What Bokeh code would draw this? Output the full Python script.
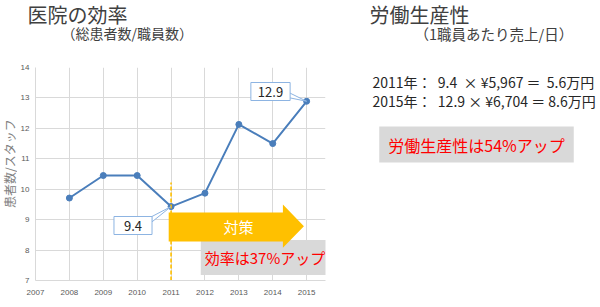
import math
from bokeh.plotting import figure
from bokeh.models import Label, Range1d
from bokeh.layouts import row, column
from bokeh.embed import file_html
from bokeh.resources import INLINE

# ---- data ----
years = [2008, 2009, 2010, 2011, 2012, 2013, 2014, 2015]
efficiency = [9.71, 10.45, 10.45, 9.43, 9.87, 12.13, 11.5, 12.89]
x_ticks = [2007, 2008, 2009, 2010, 2011, 2012, 2013, 2014, 2015]
y_ticks = [7, 8, 9, 10, 11, 12, 13, 14]
callout_2011 = "9.4"
callout_2015 = "12.9"
NB = "\u00a0"
row_2011 = f"2011年：{NB}{NB}9.4{NB}{NB}× ¥5,967 ＝{NB}{NB}5.6万円"
row_2015 = f"2015年：{NB}{NB}12.9 × ¥6,704 ＝ 8.6万円"

JP = "Noto Sans CJK JP"
LEFT_W = 340          # width of the left column
YLAB_W = 17           # strip holding the y-axis title
TITLE_H = 59          # height of the title strip above the chart
CHART_H = 307 - TITLE_H
FL, FR, FT, FB = 33, 325, 67, 280   # frame edges in global px
px_per_year = (306 - 33) / 8.0


def blank_fig(w, h):
    f = figure(width=w, height=h, output_backend="svg", toolbar_location=None,
               x_range=Range1d(0, w), y_range=Range1d(0, h),
               x_axis_type=None, y_axis_type=None,
               min_border_left=0, min_border_right=0,
               min_border_top=0, min_border_bottom=0)
    f.outline_line_color = None
    f.grid.visible = False
    f.background_fill_color = "white"
    f.border_fill_color = "white"
    return f


def put(fig, x0, y0, h, x, y, text, size, color="#404040", align="left", **kw):
    l = Label(x=x - x0, y=h - (y - y0), text=text, text_font=JP,
              text_font_size=f"{size}px", text_color=color,
              text_align=align, text_baseline="middle", **kw)
    fig.add_layout(l)
    return l


# ---------- title strip (left) ----------
tfig = blank_fig(LEFT_W, TITLE_H)
put(tfig, 0, 0, TITLE_H, 27, 14, "医院の効率", 20)
put(tfig, 0, 0, TITLE_H, 61, 32, "（総患者数/職員数）", 14)

# ---------- y-axis title strip ----------
yfig = blank_fig(YLAB_W, CHART_H)
put(yfig, 0, TITLE_H, CHART_H, 8.5, 171, "患者数/スタッフ", 12, color="#808080",
    align="center", angle=math.pi / 2)

# ---------- chart ----------
p = figure(width=LEFT_W - YLAB_W, height=CHART_H, output_backend="svg",
           toolbar_location=None,
           x_range=Range1d(2007, 2007 + (FR - FL) / px_per_year),
           y_range=Range1d(7, 14),
           min_border_left=FL - YLAB_W, min_border_right=LEFT_W - FR,
           min_border_top=FT - TITLE_H, min_border_bottom=307 - FB)
p.outline_line_color = None
p.background_fill_color = "white"
p.border_fill_color = "white"

for ax in (p.xaxis[0], p.yaxis[0]):
    ax.major_tick_line_color = None
    ax.minor_tick_line_color = None
    ax.major_tick_out = 0
    ax.major_tick_in = 0
    ax.minor_tick_out = 0
    ax.minor_tick_in = 0
    ax.axis_line_color = "#d9d9d9"
    ax.major_label_text_font = "Liberation Sans"
    ax.major_label_text_font_size = "8px"
    ax.major_label_text_color = "#595959"
p.xaxis.ticker = x_ticks
p.yaxis.ticker = y_ticks
p.xaxis.major_label_standoff = 9
p.yaxis.major_label_standoff = 6
p.xgrid.ticker = x_ticks
p.ygrid.ticker = y_ticks
p.grid.grid_line_color = "#d9d9d9"

# data line
p.line(years, efficiency, line_color="#4a7ebb", line_width=2)
p.scatter(years, efficiency, size=6, fill_color="#4a7ebb", line_color="#4a7ebb")

# dashed marker at 2011
x11 = years[3]
p.segment(x0=[x11], y0=[7], x1=[x11], y1=[10.22], line_color="#ffc000",
          line_width=1.6, line_dash="4 2")

# arrow (対策)
arrow_x = [x11 - 0.07, 2014.3, 2014.3, 2014.92, 2014.3, 2014.3, x11 - 0.07]
arrow_y = [9.235, 9.235, 9.50, 8.78, 8.08, 8.28, 8.28]
p.patch(arrow_x, arrow_y, fill_color="#ffc000", line_color=None, level="overlay")

# callout pointers
p.patch([years[3], 2010.43, 2010.43], [efficiency[3], 9.10, 8.92],
        fill_color="white", line_color="#8db4e2", line_width=1)
p.patch([years[7], 2014.47, 2014.47], [efficiency[7], 13.18, 13.01],
        fill_color="white", line_color="#8db4e2", line_width=1)


def lab(x, y, text, size, color="#404040", align="left", **kw):
    # screen units relative to the chart frame (left / bottom edges)
    l = Label(x=x - FL, y=FB - y, x_units="screen", y_units="screen", text=text,
              text_font=JP, text_font_size=f"{size}px", text_color=color,
              text_align=align, text_baseline="middle", **kw)
    p.add_layout(l)
    return l


lab(262.5, 257, "効率は37%アップ", 15, color="#ff0000", align="center",
    background_fill_color="#d9d9d9", padding=dict(left=4, right=4, top=7, bottom=7))
lab(130.5, 225, callout_2011, 13, color="#262626", align="center",
    background_fill_color="white", border_line_color="#8db4e2",
    padding=dict(left=10, right=10, top=4, bottom=4))
lab(268, 91, callout_2015, 13, color="#262626", align="center",
    background_fill_color="white", border_line_color="#8db4e2",
    padding=dict(left=7, right=7, top=4, bottom=4))
lab(236, 226, "対策", 15, color="white", align="center", level="overlay")

# ---------- right text panel ----------
RW = 600 - LEFT_W
rfig = blank_fig(RW, 307)
put(rfig, LEFT_W, 0, 307, 369, 14, "労働生産性", 20)
put(rfig, LEFT_W, 0, 307, 414, 33, "（1職員あたり売上/日）", 14.5)
put(rfig, LEFT_W, 0, 307, 372, 81, row_2011, 14, color="#262626")
put(rfig, LEFT_W, 0, 307, 372, 100, row_2015, 14, color="#262626")
put(rfig, LEFT_W, 0, 307, 476, 144, "労働生産性は54%アップ", 16, color="#ff0000",
    align="center", background_fill_color="#d9d9d9",
    padding=dict(left=9, right=9, top=6, bottom=6))

layout = row(column(tfig, row(yfig, p, spacing=0), spacing=0), rfig, spacing=0)
open("out.html", "w").write(file_html(layout, INLINE))
